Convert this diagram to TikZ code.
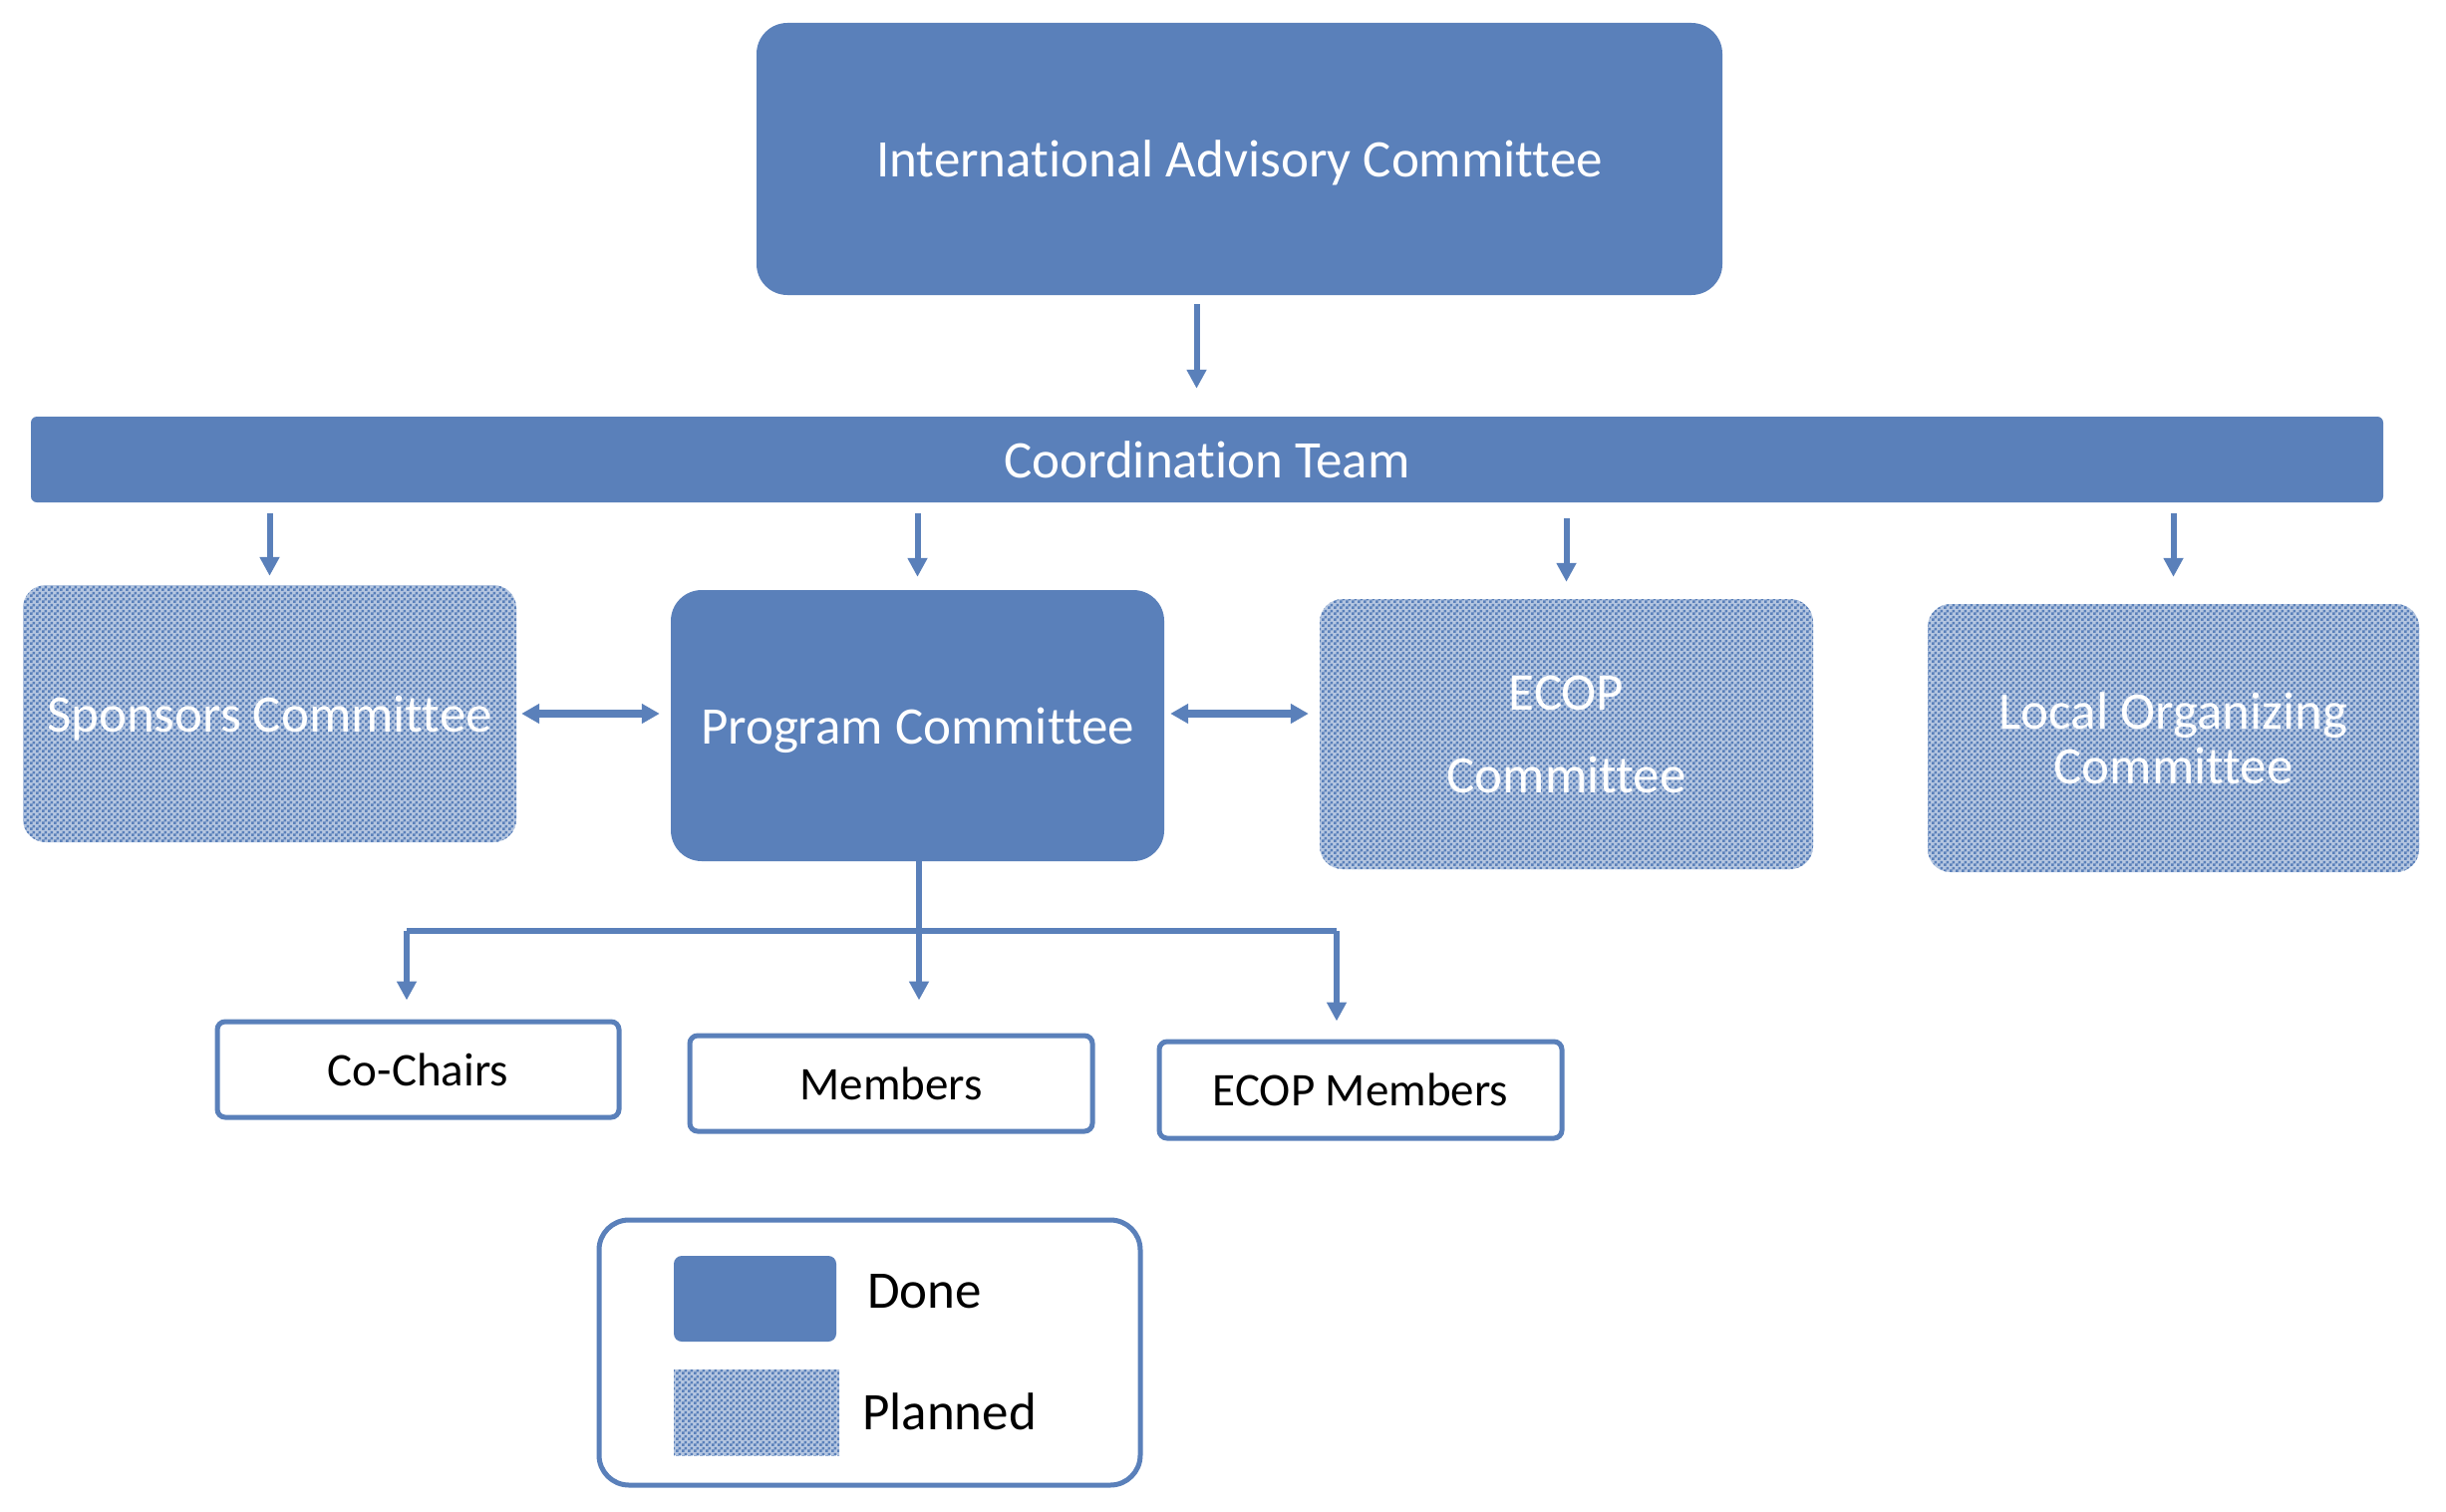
\documentclass[tikz,border=0pt]{standalone}
\usepackage{fontspec}
\setmainfont{Carlito}[Ligatures=NoCommon]
\usetikzlibrary{arrows.meta,patterns}
\definecolor{cblue}{RGB}{90,128,186}
\pgfdeclarepatternformonly{checker}{\pgfpointorigin}{\pgfpoint{6pt}{6pt}}{\pgfpoint{6pt}{6pt}}{%
  \pgfpathrectangle{\pgfpointorigin}{\pgfpoint{3pt}{3pt}}%
  \pgfpathrectangle{\pgfpoint{3pt}{3pt}}{\pgfpoint{3pt}{3pt}}%
  \pgfusepath{fill}}
\tikzset{
  done/.style={fill=cblue, draw=none, inner sep=0pt, text=white, font=\fontsize{53}{64}\selectfont, align=center},
  planned/.style={fill=cblue!45, postaction={pattern=checker, pattern color=cblue}, draw=none, inner sep=0pt, text=white, font=\fontsize{53}{64}\selectfont, align=center},
  oneline/.style={text height=40pt, text depth=4pt},
  member/.style={draw=cblue, line width=5pt, fill=white, rounded corners=8pt, inner sep=0pt, font=\fontsize{47}{56}\selectfont, text=black},
  arr/.style={draw=cblue, line width=6pt, -{Triangle[length=19pt,width=19pt]}},
  darr/.style={draw=cblue, line width=8pt, {Triangle[length=18pt,width=19pt]}-{Triangle[length=18pt,width=19pt]}},
  conn/.style={draw=cblue, line width=6pt},
  legtxt/.style={anchor=west, inner sep=0pt, font=\fontsize{53}{64}\selectfont, text=black}
}
\begin{document}
\begin{tikzpicture}[x=1pt,y=-1pt]
\useasboundingbox (0,0) rectangle (2454,1517);
\fill[white] (0,0) rectangle (2454,1517);

\node[done, oneline, rounded corners=31pt, minimum width=969pt, minimum height=273pt] (iac) at (1243.5,159.5) {International Advisory Committee};
\node[done, rounded corners=6pt, minimum width=2360pt, minimum height=86pt] (ct) at (1211,461) {Coordination Team};

\node[planned, oneline, rounded corners=23pt, minimum width=495pt, minimum height=258pt] (spons) at (270.5,716) {Sponsors Committee};
\node[done, oneline, rounded corners=31pt, minimum width=495pt, minimum height=272pt] (pc) at (920.5,728) {Program Committee};
\node[planned, rounded corners=23pt, minimum width=495pt, minimum height=271pt, font=\fontsize{53}{83}\selectfont] (ecop) at (1571.5,736.5) {ECOP\\Committee};
\node[planned, rounded corners=23pt, minimum width=493pt, minimum height=269pt, font=\fontsize{53}{55}\selectfont] (loc) at (2180.5,740.5) {Local Organizing\\Committee};

\node[member, minimum width=403pt, minimum height=96pt] (cochairs) at (419.5,1073) {Co-Chairs};
\node[member, minimum width=404pt, minimum height=96pt] (members) at (894,1087) {Members};
\node[member, minimum width=404pt, minimum height=97pt] (ecopm) at (1365,1093.5) {ECOP Members};

% legend
\node[draw=cblue, line width=5pt, rounded corners=30pt, minimum width=543pt, minimum height=266pt, inner sep=0pt] (legend) at (872.5,1357) {};
\node[done, rounded corners=8pt, minimum width=163pt, minimum height=86pt] (doneswatch) at (757.5,1303) {};
\node[planned, minimum width=166pt, minimum height=86pt] (planswatch) at (759,1417) {};
\node[legtxt] (donetxt) at (870,1296) {Done};
\node[legtxt] (plantxt) at (865,1416) {Planned};

% arrows
\draw[arr] ([xshift=-43pt,yshift=-9pt]iac.south) -- ([xshift=-43pt,yshift=28pt]iac.south |- ct.north);
\draw[arr] ([yshift=-11pt]spons.north |- ct.south) -- ([yshift=9pt]spons.north);
\draw[arr] ([yshift=-11pt]pc.north |- ct.south) -- ([yshift=13pt]pc.north);
\draw[arr] ([yshift=-16pt]ecop.north |- ct.south) -- ([yshift=17pt]ecop.north);
\draw[arr] ([yshift=-11pt]loc.north |- ct.south) -- ([yshift=27pt]loc.north);

\draw[darr] ([xshift=5pt]spons.east) -- ([xshift=-11pt]spons.east -| pc.west);
\draw[darr] ([xshift=6pt]pc.east |- spons.east) -- ([xshift=-11pt]spons.east -| ecop.west);

% branch
\coordinate (jL) at (408,934);
\coordinate (jR) at (1341,934);
\coordinate (jM) at ([xshift=1.5pt]pc.south |- jL);
\draw[conn] ([xshift=1.5pt]pc.south) -- (jM);
\draw[conn] (jL) -- (jR);
\draw[arr] (jL) -- ([yshift=19pt]jL |- cochairs.north);
\draw[arr] (jM) -- ([yshift=33pt]jM |- members.north);
\draw[arr] (jR) -- ([yshift=18pt]jR |- ecopm.north);
\end{tikzpicture}
\end{document}
